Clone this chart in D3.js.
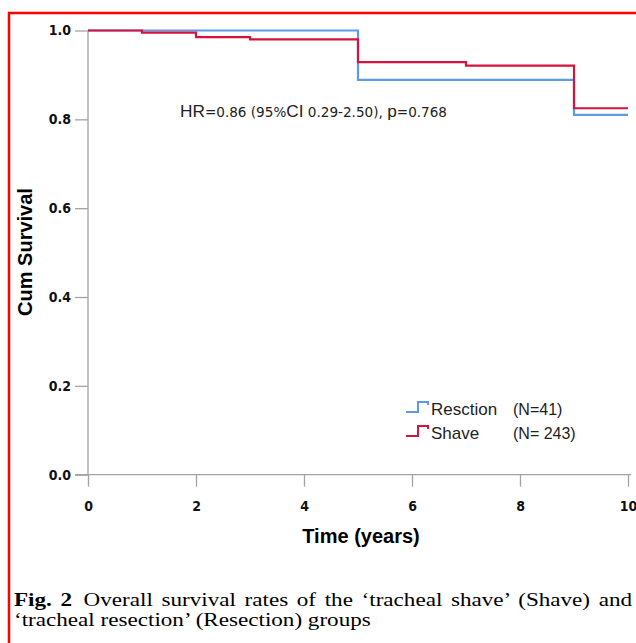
<!DOCTYPE html>
<html>
<head>
<meta charset="utf-8">
<script src="https://cdn.jsdelivr.net/npm/d3@7"></script>
<style>
  body { margin: 0; background: #fff; }
  svg { display: block; }
</style>
</head>
<body>
<div id="chart"></div>
<script>
// data
const resectionTime = [0, 5, 9, 10];
const resectionSurv = [1.0, 0.889, 0.81, 0.81];
const shaveTime = [0, 1, 2, 3, 5, 7, 9, 10];
const shaveSurv = [1.0, 0.995, 0.985, 0.98, 0.929, 0.921, 0.825, 0.825];
const xTicks = [0, 2, 4, 6, 8, 10];
const yTicks = [0.0, 0.2, 0.4, 0.6, 0.8, 1.0];
const groups = ["Resction", "Shave"];
const groupN = ["(N=41)", "(N= 243)"];
const groupColors = ["#5b9be8", "#d6123d"];

const width = 636, height = 643;
const svg = d3.select("#chart").append("svg")
  .attr("width", width).attr("height", height);

// red frame around the figure
svg.append("rect")
  .attr("x", 9).attr("y", 13)
  .attr("width", 700).attr("height", 700)
  .attr("fill", "none").attr("stroke", "#f00").attr("stroke-width", 2.5);

const x = d3.scaleLinear().domain([0, 10]).range([88, 628]);
const y = d3.scaleLinear().domain([0, 1]).range([474.7, 30.5]);
const axisColor = "#a3a3a3";
const tickFont = "'DejaVu Sans Condensed', 'DejaVu Sans', sans-serif";
const sans = "'Liberation Sans', Arial, sans-serif";

// y axis
const yAxis = svg.append("g").attr("transform", `translate(${x(0)},0)`)
  .call(d3.axisLeft(y).tickValues(yTicks).tickFormat(d3.format(".1f")).tickSize(13).tickPadding(4));
// x axis
const xAxis = svg.append("g").attr("transform", `translate(0,${y(0)})`)
  .call(d3.axisBottom(x).tickValues(xTicks).tickFormat(d3.format("d")).tickSize(12).tickPadding(14));

[yAxis, xAxis].forEach(g => {
  g.select(".domain").remove();
  g.selectAll(".tick line").attr("stroke", axisColor).attr("stroke-width", 1.3);
  g.selectAll(".tick text")
    .attr("fill", "#111")
    .style("font-family", tickFont)
    .style("font-weight", "bold")
    .style("font-size", "14px");
});
svg.append("line")
  .attr("x1", x(0)).attr("x2", x(0)).attr("y1", y(1)).attr("y2", y(0))
  .attr("stroke", axisColor).attr("stroke-width", 1.3);
svg.append("line")
  .attr("x1", x(0) - 13).attr("x2", 631).attr("y1", y(0)).attr("y2", y(0))
  .attr("stroke", axisColor).attr("stroke-width", 1.3);

// survival curves
const line = d3.line()
  .x(d => x(d[0])).y(d => y(d[1]))
  .curve(d3.curveStepAfter);

const series = [
  d3.zip(resectionTime, resectionSurv),
  d3.zip(shaveTime, shaveSurv)
];
series.forEach((s, i) => {
  svg.append("path")
    .datum(s)
    .attr("d", line)
    .attr("fill", "none")
    .attr("stroke", groupColors[i])
    .attr("stroke-width", 2.2);
});

// axis titles
svg.append("text")
  .attr("x", 361).attr("y", 543)
  .attr("text-anchor", "middle")
  .style("font-family", sans)
  .style("font-weight", "bold").style("font-size", "20px")
  .text("Time (years)");

svg.append("text")
  .attr("transform", "translate(32,252) rotate(-90)")
  .attr("text-anchor", "middle")
  .style("font-family", sans)
  .style("font-weight", "bold").style("font-size", "20px")
  .text("Cum Survival");

// hazard ratio note
const hr = svg.append("text")
  .attr("x", 180).attr("y", 117)
  .attr("fill", "#222")
  .attr("textLength", 267).attr("lengthAdjust", "spacingAndGlyphs")
  .style("font-family", tickFont).style("font-size", "14px");
hr.append("tspan").style("font-family", sans).style("font-size", "16px").text("HR");
hr.append("tspan").text("=0.86 (95%");
hr.append("tspan").style("font-family", sans).style("font-size", "16px").text("CI");
hr.append("tspan").text(" 0.29-2.50), ");
hr.append("tspan").style("font-family", sans).style("font-size", "16px").text("p");
hr.append("tspan").text("=0.768");

// legend
const legendY = [415, 439];
groups.forEach((g, i) => {
  const by = legendY[i];
  svg.append("path")
    .attr("d", `M406,${by - 3} H418 V${by - 13} H428 V${by - 10}`)
    .attr("fill", "none").attr("stroke", groupColors[i]).attr("stroke-width", 2);
  svg.append("text")
    .attr("x", 431).attr("y", by)
    .attr("fill", "#222")
    .style("font-family", sans)
    .style("font-size", "17px")
    .text(g);
  svg.append("text")
    .attr("x", 513).attr("y", by)
    .attr("fill", "#222")
    .style("font-family", sans)
    .style("font-size", "16px")
    .text(groupN[i]);
});

// caption: the scanned type is wide, so stretch it and justify line 1
const capG = svg.append("g");
const serif = "'Liberation Serif', 'Times New Roman', serif";
const cap1 = capG.append("text").attr("x", 0).attr("y", 606)
  .style("font-family", serif).style("font-size", "19px");
cap1.append("tspan").style("font-weight", "bold").text("Fig. 2");
cap1.append("tspan").text("\u2002Overall survival rates of the \u2018tracheal shave\u2019 (Shave) and");
const cap2 = capG.append("text").attr("x", 0).attr("y", 626)
  .style("font-family", serif).style("font-size", "19px")
  .text("\u2018tracheal resection\u2019 (Resection) groups");

const sx = 357 / cap2.node().getComputedTextLength();
capG.attr("transform", `translate(14,0) scale(${sx},1)`);
const w1 = cap1.node().getComputedTextLength();
const gaps = 9;
cap1.attr("word-spacing", (618 / sx - w1) / gaps);
</script>
</body>
</html>
